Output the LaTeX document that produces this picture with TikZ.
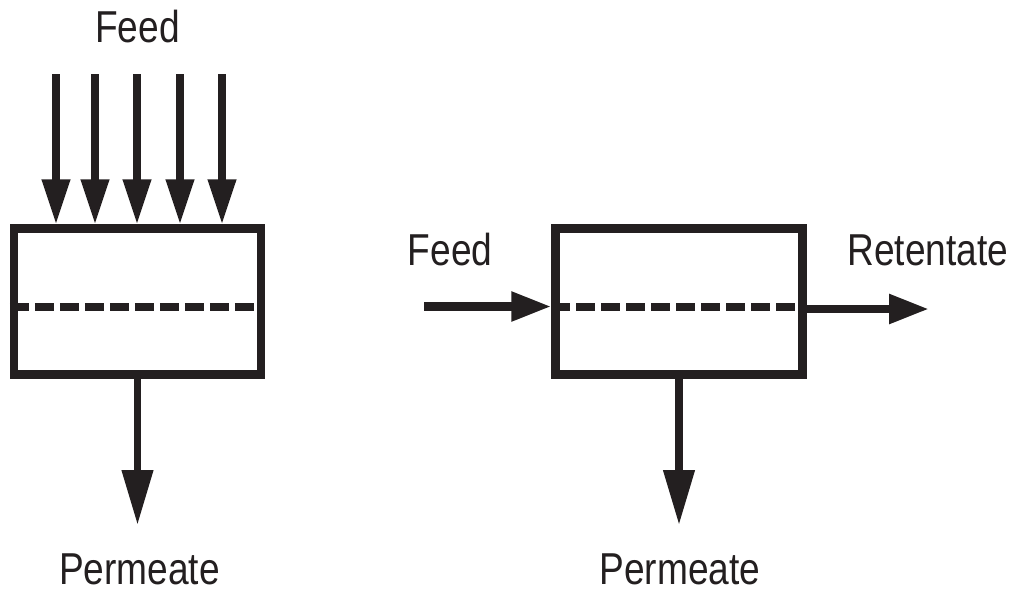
\documentclass[tikz,border=0pt]{standalone}
\usepackage{graphicx}
\usepackage{fontspec}
\setmainfont{Liberation Sans}
\usetikzlibrary{arrows.meta,calc}
\definecolor{ink}{HTML}{231F20}
\newcommand{\cond}[1]{\scalebox{0.83}[1]{#1}}
\begin{document}
\begin{tikzpicture}[x=1pt,y=-1pt,
  box/.style={draw=ink,line width=8.5pt,rectangle,minimum width=247pt,minimum height=146pt,inner sep=0pt},
  flow/.style={draw=ink,line width=7.5pt,-{Triangle[length=45pt,width=27pt]}},
  hflow/.style={draw=ink,line width=8.5pt,-{Triangle[length=40pt,width=28pt]}},
  membrane/.style={draw=ink,line width=8pt,dash pattern=on 19pt off 6pt},
  lbl/.style={text=ink,anchor=base,inner sep=0pt,font=\fontsize{44.7}{50}\selectfont}]
\useasboundingbox (0,0) rectangle (1012,590);

% boxes
\node[box] (L) at (137.5,301.5) {};
\node[box] (R) at (679,301.5) {};

% membranes
\coordinate (m) at (0,306.5);
\draw[membrane] (L.west |- m) -- (L.east |- m);
\draw[membrane] (R.west |- m) -- (R.east |- m);

% dead-end feed arrows
\coordinate (f1) at (56,74);
\coordinate (f2) at (95,74);
\coordinate (f3) at (137,74);
\coordinate (f4) at (180,74);
\coordinate (f5) at (222,74);
\foreach \f in {f1,f2,f3,f4,f5}{
  \draw[flow] (\f) -- (\f |- L.north);
}

% permeate arrows
\coordinate (p1) at (137.5,525);
\coordinate (p2) at (679,525);
\draw[flow,-{Triangle[length=55pt,width=30pt]}] (L.south) -- (p1);
\draw[flow,-{Triangle[length=55pt,width=30pt]}] (R.south) -- (p2);

% cross-flow feed and retentate
\coordinate (rf) at (424,306.5);
\coordinate (rt) at (929,309);
\draw[hflow] (rf) -- (rf -| R.west);
\draw[hflow] (R.east |- rt) -- (rt);

% labels
\node[lbl] (feedL) at (137.5,42) {\cond{Feed}};
\node[lbl] (feedR) at (450,265) {\cond{Feed}};
\node[lbl] (ret) at (928,265) {\cond{Retentate}};
\node[lbl] (permL) at (139.5,584) {\cond{Permeate}};
\node[lbl] (permR) at (680,584) {\cond{Permeate}};
\end{tikzpicture}
\end{document}
